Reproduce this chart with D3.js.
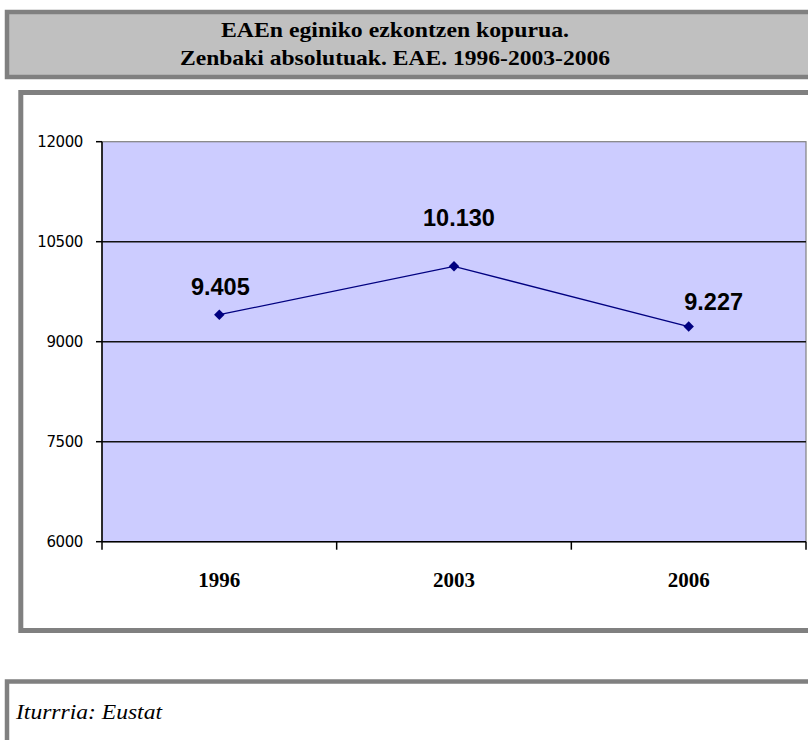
<!DOCTYPE html>
<html>
<head>
<meta charset="utf-8">
<script src="https://cdn.jsdelivr.net/npm/d3@7"></script>
<style>
  body { margin: 0; background: #fff; }
  svg { display: block; }
</style>
</head>
<body>
<svg id="chart" width="808" height="740"></svg>
<script>
const titleLines = ["EAEn eginiko ezkontzen kopurua.", "Zenbaki absolutuak. EAE. 1996-2003-2006"];
const years = ["1996", "2003", "2006"];
const values = [9405, 10130, 9227];
const valueLabels = ["9.405", "10.130", "9.227"];
const yTicks = [6000, 7500, 9000, 10500, 12000];
const sourceText = "Iturrria: Eustat";

const svg = d3.select("#chart");
const serif = "'Liberation Serif', 'DejaVu Serif', serif";

// title box
svg.append("rect")
  .attr("x", 7).attr("y", 12).attr("width", 820).attr("height", 65)
  .attr("fill", "#c0c0c0").attr("stroke", "#808080").attr("stroke-width", 4.5);
const titleWidths = [348, 430];
svg.append("g").selectAll("text").data(titleLines).enter().append("text")
  .attr("x", 395)
  .attr("y", (d, i) => 37 + i * 27.5)
  .attr("text-anchor", "middle")
  .attr("font-family", serif)
  .attr("font-weight", "bold")
  .attr("font-size", 21)
  .attr("textLength", (d, i) => titleWidths[i])
  .attr("lengthAdjust", "spacingAndGlyphs")
  .attr("fill", "#000")
  .text((d) => d);

// chart frame
svg.append("rect")
  .attr("x", 20.8).attr("y", 92.5).attr("width", 820).attr("height", 538)
  .attr("fill", "#fff").attr("stroke", "#808080").attr("stroke-width", 5);

const marginLeft = 102;
const marginTop = 141.7;
const chartWidth = 704;
const chartHeight = 400;

const x = d3.scaleBand().domain(years).range([0, chartWidth]);
const y = d3.scaleLinear().domain([6000, 12000]).range([chartHeight, 0]);

const content = svg.append("g")
  .attr("transform", `translate(${marginLeft},${marginTop})`);

content.append("rect")
  .attr("x", 0).attr("y", 0).attr("width", chartWidth).attr("height", chartHeight)
  .attr("fill", "#ccccff").attr("stroke", "#808080").attr("stroke-width", 1.2);

// gridlines
content.append("g").selectAll("line").data(yTicks.slice(1, -1)).enter().append("line")
  .attr("x1", 0).attr("x2", chartWidth)
  .attr("y1", (d) => y(d)).attr("y2", (d) => y(d))
  .attr("stroke", "#111").attr("stroke-width", 1.5);

// y axis
const yAxis = content.append("g");
yAxis.append("line")
  .attr("x1", 0).attr("x2", 0).attr("y1", 0).attr("y2", chartHeight)
  .attr("stroke", "#000").attr("stroke-width", 1.5);
const yt = yAxis.selectAll("g").data(yTicks).enter().append("g")
  .attr("transform", (d) => `translate(0,${y(d)})`);
yt.append("line")
  .attr("x1", -6).attr("x2", 0)
  .attr("stroke", "#000").attr("stroke-width", 1.5);
yt.append("text")
  .attr("x", -19)
  .attr("text-anchor", "end")
  .attr("dominant-baseline", "central")
  .attr("font-family", "'DejaVu Sans', sans-serif")
  .attr("font-size", 15)
  .attr("letter-spacing", -0.4)
  .attr("fill", "#000")
  .text((d) => d);

// x axis
const xAxis = content.append("g").attr("transform", `translate(0,${chartHeight})`);
xAxis.append("line")
  .attr("x1", 0).attr("x2", chartWidth)
  .attr("stroke", "#000").attr("stroke-width", 1.5);
const boundaries = years.map((d) => x(d)).concat([chartWidth]);
xAxis.selectAll("line.tick").data(boundaries).enter().append("line")
  .attr("class", "tick")
  .attr("x1", (d) => d).attr("x2", (d) => d)
  .attr("y1", 0).attr("y2", 8)
  .attr("stroke", "#000").attr("stroke-width", 1.5);
xAxis.selectAll("text").data(years).enter().append("text")
  .attr("x", (d) => x(d) + x.bandwidth() / 2)
  .attr("y", 45)
  .attr("text-anchor", "middle")
  .attr("font-family", serif)
  .attr("font-weight", "bold")
  .attr("font-size", 21)
  .attr("fill", "#000")
  .text((d) => d);

// line + markers
const pts = years.map((d, i) => [x(d) + x.bandwidth() / 2, y(values[i])]);
content.append("path")
  .attr("d", d3.line()(pts))
  .attr("fill", "none")
  .attr("stroke", "#000080")
  .attr("stroke-width", 1.3);
content.append("g").selectAll("path").data(pts).enter().append("path")
  .attr("d", d3.symbol().type(d3.symbolSquare).size(55))
  .attr("transform", (d) => `translate(${d[0]},${d[1]})rotate(45)`)
  .attr("fill", "#000080");

// data labels (placed by hand in the original)
const labelOffsets = [[1, -20], [5, -40], [25, -17]];
content.append("g").selectAll("text").data(pts).enter().append("text")
  .attr("x", (d, i) => d[0] + labelOffsets[i][0])
  .attr("y", (d, i) => d[1] + labelOffsets[i][1])
  .attr("text-anchor", "middle")
  .attr("font-family", "'Liberation Sans', Arial, sans-serif")
  .attr("font-weight", "bold")
  .attr("font-size", 23.5)
  .attr("fill", "#000")
  .text((d, i) => valueLabels[i]);

// source box
svg.append("rect")
  .attr("x", 7).attr("y", 681.5).attr("width", 820).attr("height", 80)
  .attr("fill", "#fff").attr("stroke", "#808080").attr("stroke-width", 4.5);
svg.append("text")
  .attr("x", 16).attr("y", 719)
  .attr("font-family", serif)
  .attr("font-style", "italic")
  .attr("font-size", 21)
  .attr("textLength", 146)
  .attr("lengthAdjust", "spacingAndGlyphs")
  .attr("fill", "#000")
  .text(sourceText);
</script>
</body>
</html>
